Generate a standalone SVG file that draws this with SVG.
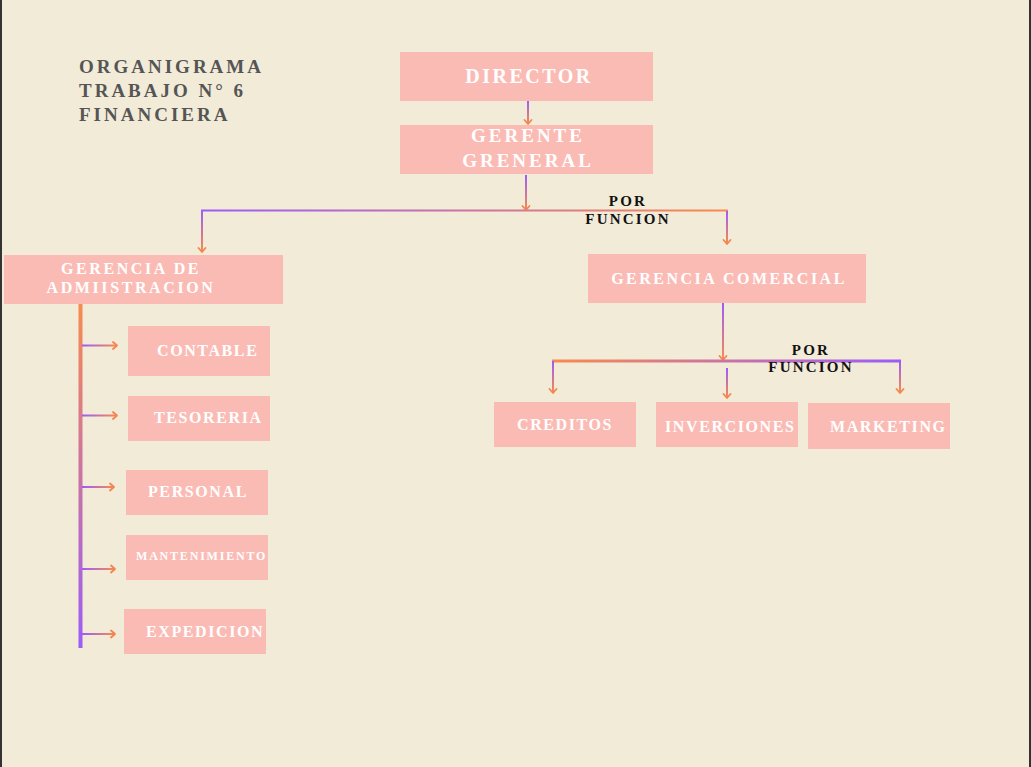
<svg xmlns="http://www.w3.org/2000/svg" width="1031" height="767" viewBox="0 0 1031 767">
<defs>
<linearGradient id="gV" x1="0" y1="0" x2="0" y2="1"><stop offset="0" stop-color="#9B5CFA"/><stop offset="1" stop-color="#F98B4E"/></linearGradient>
<linearGradient id="gVr" x1="0" y1="0" x2="0" y2="1"><stop offset="0" stop-color="#F98B4E"/><stop offset="1" stop-color="#9B5CFA"/></linearGradient>
<linearGradient id="gH" x1="0" y1="0" x2="1" y2="0"><stop offset="0" stop-color="#9B5CFA"/><stop offset="1" stop-color="#F98B4E"/></linearGradient>
<linearGradient id="gHr" x1="0" y1="0" x2="1" y2="0"><stop offset="0" stop-color="#F98B4E"/><stop offset="1" stop-color="#9B5CFA"/></linearGradient>
</defs>
<style>
.box{fill:#FBBBB5}
.t{font-family:"Liberation Serif","Times New Roman",serif;font-weight:bold;fill:#FFFFFF}
.tl{font-size:16px;letter-spacing:1.6px}
.title{font-family:"Liberation Serif","Times New Roman",serif;font-weight:bold;fill:#555555;font-size:19px;letter-spacing:3px}
.pf{font-family:"Liberation Serif","Times New Roman",serif;font-weight:bold;fill:#111111;font-size:15px;letter-spacing:2.2px;text-anchor:middle}
.ah{fill:none;stroke:#F5854D;stroke-width:1.8;stroke-linecap:round;stroke-linejoin:round}
</style>
<rect x="0" y="0" width="1031" height="767" fill="#F1EBD8"/>
<rect x="0" y="0" width="2" height="767" fill="#333333"/>
<rect x="1029" y="0" width="2" height="767" fill="#333333"/>

<g id="title">
<text class="title" x="79" y="73">ORGANIGRAMA</text>
<text class="title" x="79" y="97">TRABAJO N° 6</text>
<text class="title" x="79" y="121">FINANCIERA</text>
</g>

<g id="connectors">
<rect x="527" y="101" width="2" height="23" fill="url(#gV)"/>
<path class="ah" d="M524.5 120 L528 124 L531.5 120"/>
<rect x="525" y="175" width="2" height="35" fill="url(#gV)"/>
<path class="ah" d="M522.5 206 L526 210 L529.5 206"/>
<rect x="201" y="209.5" width="527" height="2" fill="url(#gH)"/>
<rect x="201" y="210" width="2" height="42" fill="url(#gV)"/>
<path class="ah" d="M198.5 248 L202 252 L205.5 248"/>
<rect x="726" y="211" width="2" height="33" fill="url(#gV)"/>
<path class="ah" d="M723.5 240 L727 244 L730.5 240"/>
<rect x="722" y="303" width="2" height="57" fill="url(#gV)"/>
<path class="ah" d="M719.5 356 L723 360 L726.5 356"/>
<rect x="552" y="359.5" width="349" height="3" fill="url(#gHr)"/>
<rect x="552" y="361" width="2" height="32" fill="url(#gV)"/>
<path class="ah" d="M549.5 389 L553 393 L556.5 389"/>
<rect x="726" y="368" width="2" height="30" fill="url(#gV)"/>
<path class="ah" d="M723.5 394 L727 398 L730.5 394"/>
<rect x="899" y="361" width="2" height="32" fill="url(#gV)"/>
<path class="ah" d="M896.5 389 L900 393 L903.5 389"/>
<rect x="78.5" y="301" width="4" height="347" fill="url(#gVr)"/>
<rect x="82" y="344.5" width="35" height="2" fill="url(#gH)"/>
<path class="ah" d="M113 342 L117 345.5 L113 349"/>
<rect x="82" y="414.5" width="35" height="2" fill="url(#gH)"/>
<path class="ah" d="M113 412 L117 415.5 L113 419"/>
<rect x="82" y="486" width="32" height="2" fill="url(#gH)"/>
<path class="ah" d="M110 483.5 L114 487 L110 490.5"/>
<rect x="82" y="568" width="33" height="2" fill="url(#gH)"/>
<path class="ah" d="M111 565.5 L115 569 L111 572.5"/>
<rect x="82" y="633" width="33" height="2" fill="url(#gH)"/>
<path class="ah" d="M111 630.5 L115 634 L111 637.5"/>
<text class="pf" x="628" y="206">POR</text>
<text class="pf" x="628" y="224">FUNCION</text>
<text class="pf" x="811" y="355">POR</text>
<text class="pf" x="811" y="372">FUNCION</text>
</g>

<g id="director">
<rect class="box" x="400" y="52" width="253" height="49"/>
<text class="t" x="529" y="83" font-size="20" letter-spacing="2.5" text-anchor="middle">DIRECTOR</text>
</g>
<g id="gerente">
<rect class="box" x="400" y="125" width="253" height="49"/>
<text class="t" x="528" y="142" font-size="19" letter-spacing="3" text-anchor="middle">GERENTE</text>
<text class="t" x="528" y="167" font-size="19" letter-spacing="3" text-anchor="middle">GRENERAL</text>
</g>
<g id="gerencia-admin">
<rect class="box" x="4" y="255" width="279" height="49"/>
<text class="t" x="131" y="274" font-size="16" letter-spacing="2.6" text-anchor="middle">GERENCIA DE</text>
<text class="t" x="131" y="293" font-size="16" letter-spacing="2.6" text-anchor="middle">ADMIISTRACION</text>
</g>
<g id="gerencia-comercial">
<rect class="box" x="588" y="254" width="278" height="49"/>
<text class="t" x="729" y="284" font-size="16" letter-spacing="2.5" text-anchor="middle">GERENCIA COMERCIAL</text>
</g>
<g id="contable">
<rect class="box" x="128" y="326" width="142" height="50"/>
<text class="t tl" x="157" y="356">CONTABLE</text>
</g>
<g id="tesoreria">
<rect class="box" x="128" y="396" width="142" height="45"/>
<text class="t tl" x="154" y="423">TESORERIA</text>
</g>
<g id="personal">
<rect class="box" x="126" y="470" width="142" height="45"/>
<text class="t tl" x="148" y="497">PERSONAL</text>
</g>
<g id="mantenimiento">
<rect class="box" x="126" y="535" width="142" height="45"/>
<text class="t" x="136" y="560" font-size="12" letter-spacing="1.8">MANTENIMIENTO</text>
</g>
<g id="expedicion">
<rect class="box" x="124" y="609" width="142" height="45"/>
<text class="t tl" x="146" y="637">EXPEDICION</text>
</g>
<g id="creditos">
<rect class="box" x="494" y="402" width="142" height="45"/>
<text class="t tl" x="517" y="430">CREDITOS</text>
</g>
<g id="inverciones">
<rect class="box" x="656" y="402" width="142" height="45"/>
<text class="t tl" x="665" y="432">INVERCIONES</text>
</g>
<g id="marketing">
<rect class="box" x="808" y="403" width="142" height="46"/>
<text class="t tl" x="830" y="432">MARKETING</text>
</g>
</svg>
